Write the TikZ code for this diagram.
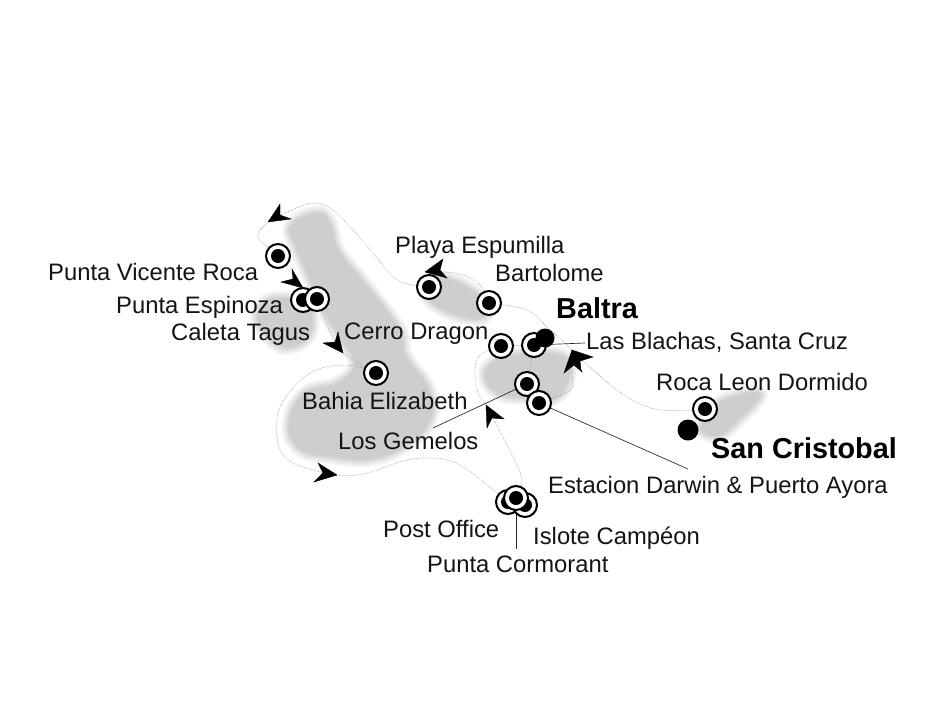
\documentclass[tikz,border=0pt]{standalone}
\usepackage{fontspec}
\setmainfont{Liberation Sans}
\usetikzlibrary{backgrounds}
\definecolor{islA}{HTML}{F4F4F4}
\definecolor{islB}{HTML}{EAEAEA}
\definecolor{islC}{HTML}{DFDFDF}
\definecolor{islD}{HTML}{D5D5D5}
\definecolor{islE}{HTML}{CECECE}
\newcommand{\islandshape}[1]{%
  \draw[line width=15pt,islA,line join=round] plot[smooth cycle,tension=.7] coordinates {#1};
  \draw[line width=11pt,islB,line join=round] plot[smooth cycle,tension=.7] coordinates {#1};
  \draw[line width=7pt,islC,line join=round] plot[smooth cycle,tension=.7] coordinates {#1};
  \draw[line width=3.5pt,islD,line join=round] plot[smooth cycle,tension=.7] coordinates {#1};
  \fill[islE] plot[smooth cycle,tension=.7] coordinates {#1};}
\tikzset{
  x=1pt,y=-1pt,
  stop/.style={circle,draw=black,line width=2pt,fill=white,minimum size=24pt,inner sep=0pt,
    path picture={\fill[black] (path picture bounding box.center) circle (7pt);}},
  hub/.style={circle,fill=black,inner sep=0pt},
  route/.style={densely dotted,line width=.5pt,color=black!50},
  leader/.style={line width=.65pt,color=black!85},
  head/.style={fill=black,draw=black,line width=.4pt,line join=miter},
  lbl/.style={anchor=base west,inner sep=0pt,font=\fontsize{23.8}{26}\selectfont,text=black!92},
  big/.style={anchor=base west,inner sep=0pt,font=\bfseries\fontsize{28.8}{32}\selectfont,text=black},
}
\begin{document}
\begin{tikzpicture}
\useasboundingbox (0,0) rectangle (936,720);
% stops
\node[stop] (vicente) at (278,256) {};
\node[stop] (espinoza) at (303,300) {};
\node[stop] (tagus) at (317,299) {};
\node[stop] (elizabeth) at (376,373) {};
\node[stop] (playa) at (429,287) {};
\node[stop] (bartolome) at (489,303) {};
\node[stop] (dragon) at (501,346) {};
\node[stop] (blachas) at (534,345) {};
\node[hub,minimum size=19pt] (baltra) at (545,338) {};
\node[stop] (gemelos) at (527,384) {};
\node[stop] (darwin) at (539,403) {};
\node[stop] (roca) at (705,409) {};
\node[hub,minimum size=21pt] (cristobal) at (688,430) {};
\node[stop] (post) at (508,502) {};
\node[stop] (campeon) at (525,505) {};
\node[stop] (cormorant) at (516,498) {};
% free points of the route and of the leaders
\coordinate (tipA) at (268,222);
\coordinate (tipB) at (303,288);
\coordinate (tipC) at (343,353);
\coordinate (tipD) at (425,272);
\coordinate (tipE) at (486,405);
\coordinate (tipF) at (337,475);
\coordinate (tipG) at (572,350);
\coordinate (endGemelos) at (433,428);
\coordinate (endDarwin) at (688,469);
\coordinate (endBlachas) at (585,343);
\coordinate (endCormorant) at (516,549);
\begin{scope}[on background layer]
  \fill[white] (0,0) rectangle (936,720);
  % Isabela
  \islandshape{(291,226)(317,213)(330,224)(338,250)(360,278)(384,308)(401,333)(406,357)(428,388)(430,420)(404,446)(370,459)(328,456)(300,449)(289,425)(304,394)(338,383)(355,364)(341,338)(325,312)(306,270)(296,247)}
  % Fernandina
  \islandshape{(272,299)(306,304)(312,323)(305,340)(283,347)(264,331)(258,314)}
  % Santiago
  \islandshape{(437,277)(468,288)(487,307)(480,318)(457,315)(433,303)(425,288)}
  % Santa Cruz
  \islandshape{(489,366)(507,357)(543,353)(567,360)(567,384)(550,400)(527,398)(500,394)(486,380)}
  % San Cristobal
  \islandshape{(725,400)(760,394)(738,420)(719,435)(702,431)(705,420)}
  % route
  \draw[route] plot[smooth,tension=.6] coordinates {(roca.center)(660,410)(627,397)(593,370)(tipG)(547,327)(527,310)(bartolome.center)};
  \draw[route] plot[smooth,tension=.6] coordinates {(bartolome.center)(483,288)(460,274)(tipD)};
  \draw[route] plot[smooth,tension=.6] coordinates {(playa.center)(397,280)(373,253)(350,227)(333,210)(313,203)(285,213)(tipA)};
  \draw[route] plot[smooth,tension=.6] coordinates {(tipA)(258,237)(vicente.center)};
  \draw[route] (vicente.center) -- (tipB);
  \draw[route] (tipB) -- (espinoza.center);
  \draw[route] plot[smooth,tension=.6] coordinates {(tagus.center)(333,338)(tipC)(elizabeth.center)};
  \draw[route] plot[smooth,tension=.6] coordinates {(elizabeth.center)(347,365)(310,373)(280,407)(278,443)(293,463)(tipF)(367,473)(400,462)(427,458)(460,465)(post.center)};
  \draw[route] plot[smooth,tension=.6] coordinates {(cormorant.center)(522,480)(513,457)(tipE)(478,393)(475,370)(480,355)(dragon.center)};
  \draw[route] (dragon.center) -- (blachas.center);
  \draw[route] (blachas.center) -- (gemelos.center);
  \draw[route] plot[smooth,tension=.6] coordinates {(darwin.center)(570,390)(572,372)(tipG)};
  % leaders
  \draw[leader] (gemelos.center) -- (endGemelos);
  \draw[leader] (darwin.center) -- (endDarwin);
  \draw[leader] (blachas.center) -- (endBlachas);
  \draw[leader] (cormorant.center) -- (endCormorant);
\end{scope}
% arrowheads
\fill[head] (tipA) -- (280,204) -- (280,215) -- (291,219) -- cycle;
\fill[head] (tipB) -- (281,282) -- (293,279) -- (292,269) -- cycle;
\fill[head] (tipC) -- (323,343) -- (335,342) -- (338,332) -- cycle;
\fill[head] (tipD) -- (443,259) -- (440,270) -- (447,278) -- cycle;
\fill[head] (tipE) -- (487,428) -- (492,418) -- (504,419) -- cycle;
\fill[head] (tipF) -- (318,463) -- (323,473) -- (314,482) -- cycle;
\fill[head] (tipG) -- (564,373) -- (574,365) -- (582,372) -- cycle;
\fill[head] (tipG) -- (593,357) -- (580,361) -- (581,371) -- cycle;
% labels
\node[lbl] (tVicente) at (48,280) {Punta Vicente Roca};
\node[lbl] (tEspinoza) at (116,313) {Punta Espinoza};
\node[lbl] (tTagus) at (171,340) {Caleta Tagus};
\node[lbl] (tDragon) at (344,339) {Cerro Dragon};
\node[lbl] (tElizabeth) at (302,409) {Bahia Elizabeth};
\node[lbl] (tGemelos) at (338,449) {Los Gemelos};
\node[lbl] (tPlaya) at (395,253) {Playa Espumilla};
\node[lbl] (tBartolome) at (495,281) {Bartolome};
\node[big] (tBaltra) at (556,318) {Baltra};
\node[lbl] (tBlachas) at (586,349) {Las Blachas, Santa Cruz};
\node[lbl] (tRoca) at (656,390) {Roca Leon Dormido};
\node[big] (tCristobal) at (711,458) {San Cristobal};
\node[lbl] (tDarwin) at (548,493) {Estacion Darwin \& Puerto Ayora};
\node[lbl] (tPost) at (383,537) {Post Office};
\node[lbl] (tCampeon) at (533,544) {Islote Campéon};
\node[lbl] (tCormorant) at (427,572) {Punta Cormorant};
\end{tikzpicture}
\end{document}
